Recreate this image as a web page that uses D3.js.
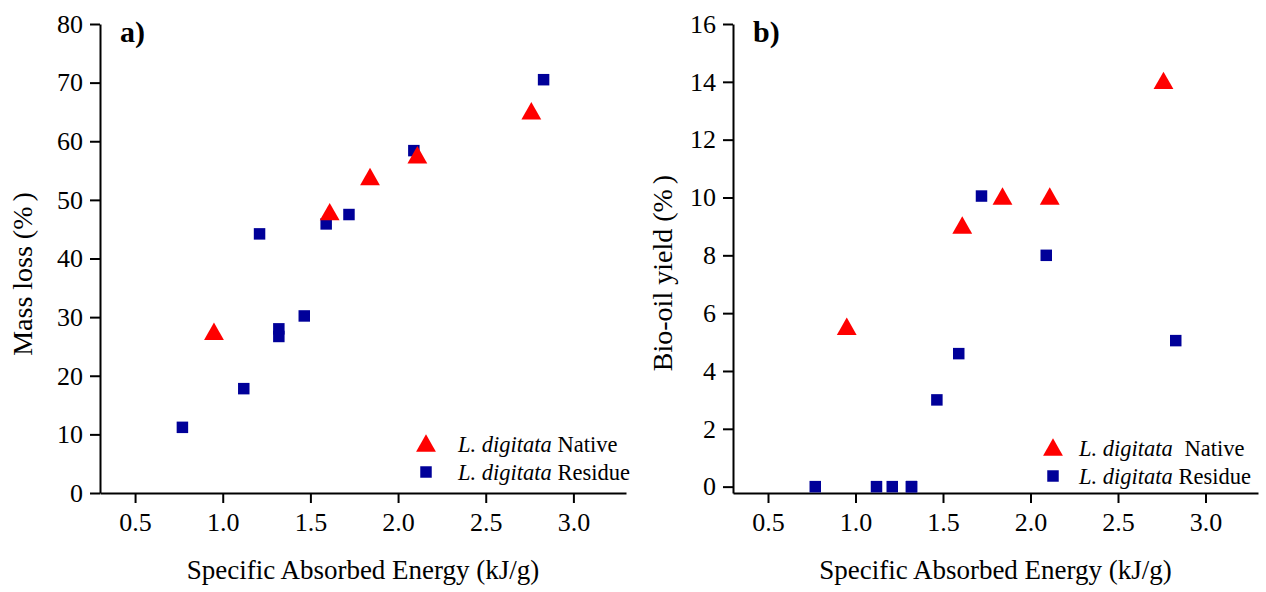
<!DOCTYPE html>
<html>
<head>
<meta charset="utf-8">
<script src="https://cdn.jsdelivr.net/npm/d3@7"></script>
<style>
  html, body { margin: 0; padding: 0; background: #fff; }
  svg { display: block; }
  text { font-family: "Liberation Serif", "Times New Roman", serif; fill: #000; }
</style>
</head>
<body>
<svg id="chart" width="1266" height="592"></svg>
<script>
// Specific absorbed energy (kJ/g) for each sample
const nativeEnergy  = [0.95, 1.61, 1.84, 2.11, 2.76];
const residueEnergy = [0.77, 1.12, 1.21, 1.32, 1.32, 1.465, 1.59, 1.72, 2.09, 2.83];

// Mass loss (%)
const nativeMassLoss  = [27.6, 48.0, 54.0, 57.7, 65.2];
const residueMassLoss = [11.2, 17.8, 44.2, 28.0, 26.7, 30.2, 45.9, 47.5, 58.4, 70.5];

// Bio-oil yield (%)
const nativeBioOil  = [5.55, 9.05, 10.05, 10.05, 14.05];
const residueBioOil = [0, 0, 0, 0, 0, 3.0, 4.6, 10.05, 8.0, 5.05];

// Tick values
const energyTicks   = [0.5, 1.0, 1.5, 2.0, 2.5, 3.0];
const massLossTicks = [0, 10, 20, 30, 40, 50, 60, 70, 80];
const bioOilTicks   = [0, 2, 4, 6, 8, 10, 12, 14, 16];

const seriesNames = ["Native", "Residue"];
const speciesName = "L. digitata";

const RED = "#ff0000";
const BLUE = "#000099";

const svg = d3.select("#chart");
const TOP = 24, BOTTOM = 493;

// Upward triangle centred on its bounding box
const triangleSymbol = {
  draw(context, size) {
    const w = Math.sqrt(size * 4 / Math.sqrt(3));
    const h = w * 0.88;
    context.moveTo(0, -h / 2);
    context.lineTo(w / 2, h / 2);
    context.lineTo(-w / 2, h / 2);
    context.closePath();
  }
};
const triPath = d3.symbol(triangleSymbol, 170)();
const sqPath = d3.symbol(d3.symbolSquare, 132)();

const panels = [
  {
    tag: "a)", left: 100, right: 626, yDomain: [0, 80], yTicks: massLossTicks,
    native: nativeMassLoss, residue: residueMassLoss,
    yTitle: ["Mass loss (%", ")"], yTitleX: 32, yTitleY: 274,
    legend: { x: 426, y1: 443, y2: 472, tx: 458, b1: 451.5, b2: 480, gap: 0 }
  },
  {
    tag: "b)", left: 733, right: 1258, yDomain: [-0.22, 16], yTicks: bioOilTicks,
    native: nativeBioOil, residue: residueBioOil,
    yTitle: ["Bio-oil yield (%", ")"], yTitleX: 672, yTitleY: 273,
    legend: { x: 1053, y1: 447, y2: 476, tx: 1079, b1: 456, b2: 484, gap: 6 }
  }
];

panels.forEach(p => {
  const x = d3.scaleLinear().domain([0.3, 3.3]).range([p.left, p.right]);
  const y = d3.scaleLinear().domain(p.yDomain).range([BOTTOM, TOP]);
  const g = svg.append("g");

  const xAxis = g.append("g")
    .attr("transform", `translate(0,${BOTTOM})`)
    .call(d3.axisBottom(x).tickValues(energyTicks).tickFormat(d3.format(".1f"))
      .tickSize(10).tickSizeOuter(0).tickPadding(10));

  const yAxis = g.append("g")
    .attr("transform", `translate(${p.left},0)`)
    .call(d3.axisLeft(y).tickValues(p.yTicks).tickFormat(d3.format("d"))
      .tickSize(10).tickSizeOuter(0).tickPadding(7));

  [xAxis, yAxis].forEach(a => {
    a.select(".domain").attr("stroke", "#000").attr("stroke-width", 2);
    a.selectAll(".tick line").attr("stroke", "#000").attr("stroke-width", 2);
    a.selectAll(".tick text")
      .attr("font-family", '"Liberation Serif", "Times New Roman", serif')
      .attr("font-size", 26).attr("fill", "#000");
  });

  // axis titles
  g.append("text")
    .attr("x", (p.left + p.right) / 2).attr("y", 579)
    .attr("text-anchor", "middle").attr("font-size", 27)
    .text("Specific Absorbed Energy (kJ/g)");

  const yt = g.append("text")
    .attr("transform", `translate(${p.yTitleX},${p.yTitleY}) rotate(-90)`)
    .attr("text-anchor", "middle").attr("font-size", 28);
  yt.append("tspan").text(p.yTitle[0]);
  yt.append("tspan").attr("dx", 5).text(p.yTitle[1]);

  // panel tag
  g.append("text")
    .attr("x", p.left + 20).attr("y", 42)
    .attr("font-size", 30).attr("font-weight", "bold")
    .text(p.tag);

  // data points
  g.selectAll("path.residue").data(residueEnergy.map((e, i) => [e, p.residue[i]]))
    .join("path").attr("class", "residue")
    .attr("d", sqPath).attr("fill", BLUE)
    .attr("transform", d => `translate(${x(d[0])},${y(d[1])})`);

  g.selectAll("path.native").data(nativeEnergy.map((e, i) => [e, p.native[i]]))
    .join("path").attr("class", "native")
    .attr("d", triPath).attr("fill", RED)
    .attr("transform", d => `translate(${x(d[0])},${y(d[1])})`);

  // legend
  const L = p.legend;
  g.append("path").attr("d", triPath).attr("fill", RED)
    .attr("transform", `translate(${L.x},${L.y1})`);
  g.append("path").attr("d", sqPath).attr("fill", BLUE)
    .attr("transform", `translate(${L.x},${L.y2})`);

  [[L.b1, seriesNames[0], L.gap], [L.b2, seriesNames[1], 0]].forEach(([b, name, gap]) => {
    const t = g.append("text").attr("x", L.tx).attr("y", b).attr("font-size", 22.5);
    t.append("tspan").attr("font-style", "italic").text(speciesName);
    t.append("tspan").attr("dx", gap).text(" " + name);
  });
});
</script>
</body>
</html>
